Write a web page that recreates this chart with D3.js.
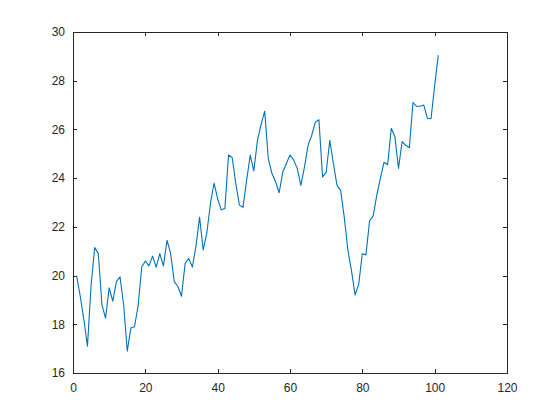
<!DOCTYPE html>
<html>
<head>
<meta charset="utf-8">
<script src="https://d3js.org/d3.v7.min.js"></script>
<style>
    body { margin: 0; background: #fff; }
    #chart { width: 560px; height: 420px; }
    .axis text { font-family: "Liberation Sans", Arial, sans-serif; font-size: 12px; fill: #262626; }
    .axis path, .axis line { stroke: #262626; }
</style>
</head>
<body>
<div id="chart"></div>
<script>
let xValues = d3.range(1, 102);
let yValues = [
    20.0, 19.15, 18.2, 17.1, 19.6, 21.15, 20.9, 18.8, 18.25, 19.5,
    18.95, 19.75, 19.95, 18.8, 16.9, 17.85, 17.9, 18.75, 20.35, 20.6,
    20.4, 20.8, 20.35, 20.9, 20.4, 21.45, 20.9, 19.75, 19.55, 19.15,
    20.5, 20.7, 20.35, 21.2, 22.4, 21.05, 21.75, 22.95, 23.8, 23.15,
    22.7, 22.75, 24.95, 24.85, 23.8, 22.9, 22.8, 23.9, 24.95, 24.3,
    25.55, 26.2, 26.75, 24.8, 24.2, 23.85, 23.4, 24.25, 24.6, 24.95,
    24.75, 24.4, 23.7, 24.45, 25.35, 25.75, 26.3, 26.4, 24.05, 24.25,
    25.55, 24.6, 23.7, 23.5, 22.4, 21.05, 20.2, 19.2, 19.65, 20.9,
    20.85, 22.25, 22.45, 23.3, 24.0, 24.65, 24.55, 26.05, 25.7, 24.4,
    25.5, 25.35, 25.25, 27.1, 26.95, 26.95, 27.0, 26.45, 26.45, 27.8,
    29.05
];
let xTicks = [0, 20, 40, 60, 80, 100, 120];
let yTicks = [16, 18, 20, 22, 24, 26, 28, 30];

function buildChart () {
    let margin = {top: 32, right: 53, bottom: 47, left: 73},
        width = 560 - margin.left - margin.right,
        height = 420 - margin.top - margin.bottom;

    let x = d3.scaleLinear().domain([0, 120]).range([0, width]);
    let y = d3.scaleLinear().domain([16, 30]).range([height, 0]);

    let svg = d3.select('#chart').append("svg")
                .attr("width", 560)
                .attr("height", 420)
                .append("g")
                .attr("transform", "translate(" + margin.left + "," + margin.top + ")");

    let tick = 4.3;

    // bottom and left carry labels, top and right just the inward ticks
    svg.append("g")
        .attr("class", "x axis")
        .attr("transform", "translate(0," + height + ")")
        .call(d3.axisBottom(x).tickValues(xTicks).tickSize(-tick).tickPadding(10).tickSizeOuter(0));

    svg.append("g")
        .attr("class", "x axis")
        .call(d3.axisTop(x).tickValues(xTicks).tickSize(-tick).tickFormat("").tickSizeOuter(0));

    svg.append("g")
        .attr("class", "y axis")
        .call(d3.axisLeft(y).tickValues(yTicks).tickSize(-tick).tickPadding(8).tickSizeOuter(0));

    svg.append("g")
        .attr("class", "y axis")
        .attr("transform", "translate(" + width + ",0)")
        .call(d3.axisRight(y).tickValues(yTicks).tickSize(-tick).tickFormat("").tickSizeOuter(0));

    svg.selectAll(".axis path").attr("shape-rendering", "crispEdges");
    svg.selectAll(".axis line").attr("shape-rendering", "crispEdges");

    let line = d3.line()
        .x(function(d, i) { return x(xValues[i]); })
        .y(function(d) { return y(d); });

    svg.append("path")
        .datum(yValues)
        .attr("fill", "none")
        .attr("stroke", "#0072BD")
        .attr("stroke-width", 1.1)
        .attr("stroke-linejoin", "round")
        .attr("d", line);
}

buildChart();
</script>
</body>
</html>
